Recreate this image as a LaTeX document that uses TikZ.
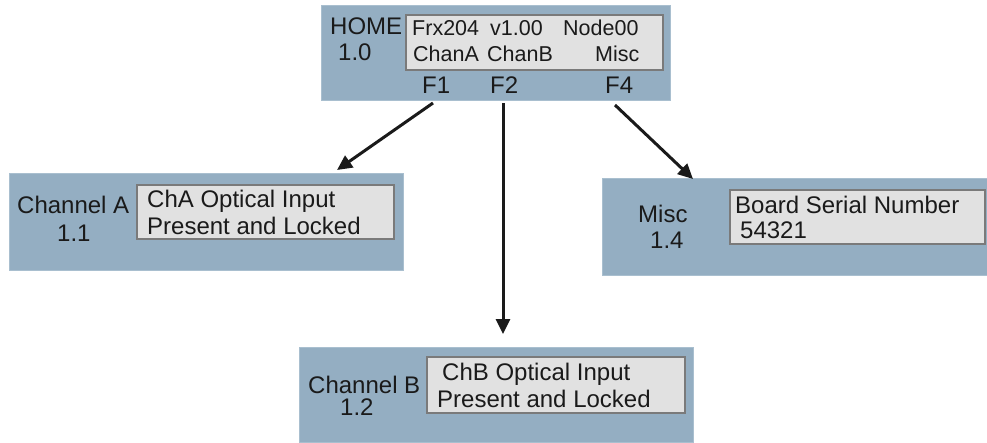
\documentclass[tikz,border=0pt]{standalone}
\usepackage{fontspec}
\setmainfont{Liberation Sans}
\usetikzlibrary{arrows.meta}
\definecolor{panel}{HTML}{94AEC2}
\definecolor{paneledge}{HTML}{A9BFCF}
\definecolor{lcd}{HTML}{E1E1E1}
\definecolor{lcdedge}{HTML}{7A7A7A}
\definecolor{ink}{HTML}{1A1A1A}
\tikzset{
  panelbox/.style={fill=panel, draw=paneledge, line width=1pt},
  lcdbox/.style={fill=lcd, draw=lcdedge, line width=1.5pt},
  lbl/.style={anchor=base west, inner sep=0pt, text=ink, font=\fontsize{24}{24}\selectfont},
  lcdtxt/.style={anchor=base west, inner sep=0pt, text=ink, font=\fontsize{24}{24}\selectfont},
  smalltxt/.style={anchor=base west, inner sep=0pt, text=ink, font=\fontsize{21.5}{21.5}\selectfont},
  arr/.style={draw=ink, line width=3pt, -{Triangle[length=15pt,width=14pt]}}
}
\begin{document}
\begin{tikzpicture}[x=1pt,y=-1pt]
\useasboundingbox (0,0) rectangle (987,442);
% HOME
\draw[panelbox] (321,5) rectangle (670,100);
\draw[lcdbox] (406,15) rectangle (663,70);
\node[lbl] (home) at (330,34) {HOME};
\node[lbl] (homenum) at (338,60) {1.0};
\node[smalltxt] (frx) at (412,35) {Frx204};
\node[smalltxt] (ver) at (490,35) {v1.00};
\node[smalltxt] (nodeid) at (563,35) {Node00};
\node[smalltxt] (cha) at (413,61) {ChanA};
\node[smalltxt] (chb) at (487,61) {ChanB};
\node[smalltxt] (misc) at (595,61) {Misc};
\node[lbl] (f1) at (422,93) {F1};
\node[lbl] (f2) at (490,93) {F2};
\node[lbl] (f4) at (605,93) {F4};
% Channel A
\draw[panelbox] (9,173) rectangle (403,270);
\draw[lcdbox] (137,185) rectangle (394,239);
\node[lbl] (chalbl) at (17,213) {Channel A};
\node[lbl] (chanum) at (57,241) {1.1};
\node[lcdtxt] (chal1) at (147,207) {ChA Optical Input};
\node[lcdtxt] (chal2) at (147,234) {Present and Locked};
% Misc
\draw[panelbox] (602,178) rectangle (987,275);
\draw[lcdbox] (730,190) rectangle (985,244);
\node[lbl] (misclbl) at (638,222) {Misc};
\node[lbl] (miscnum) at (650,248) {1.4};
\node[lcdtxt] (miscl1) at (735,213) {Board Serial Number};
\node[lcdtxt] (miscl2) at (740,238) {54321};
% Channel B
\draw[panelbox] (299,347) rectangle (693,442);
\draw[lcdbox] (427,357) rectangle (685,413);
\node[lbl] (chblbl) at (308,393) {Channel B};
\node[lbl] (chbnum) at (340,415) {1.2};
\node[lcdtxt] (chbl1) at (442,380) {ChB Optical Input};
\node[lcdtxt] (chbl2) at (437,407) {Present and Locked};
% arrows
\coordinate (s1) at (433,103);
\coordinate (e1) at (337,170);
\coordinate (s2) at (503,103);
\coordinate (e2) at (503,334);
\coordinate (s4) at (615,105);
\coordinate (e4) at (693,179);
\draw[arr] (s1) -- (e1);
\draw[arr] (s2) -- (e2);
\draw[arr] (s4) -- (e4);
\end{tikzpicture}
\end{document}
